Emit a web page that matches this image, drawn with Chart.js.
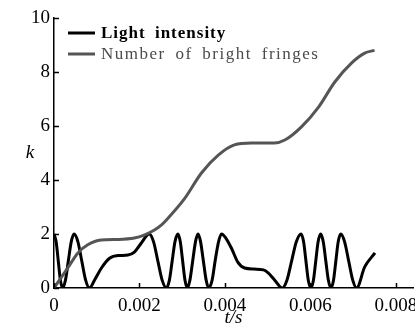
<!DOCTYPE html>
<html>
<head>
<meta charset="utf-8">
<script src="https://cdn.jsdelivr.net/npm/chart.js@4.4.1/dist/chart.umd.min.js"></script>
<style>
  html, body { margin: 0; padding: 0; background: #fff; }
  #wrap { width: 415px; height: 329px; }
</style>
</head>
<body>
<div id="wrap"><canvas id="c" width="415" height="329"></canvas></div>
<script>
// ---- data ----
const seriesNames = ["Light intensity", "Number of bright fringes"];

const lightT = [
  0, 0.00005, 0.0001, 0.00015, 0.0002,
  0.000268, 0.000335, 0.000403, 0.00047,
  0.00056, 0.00065, 0.00074, 0.00083,
  0.00095, 0.00111, 0.0013, 0.0015, 0.00173, 0.00188, 0.00204, 0.00223,
  0.00233, 0.00243, 0.00253, 0.00263,
  0.0027, 0.002765, 0.00283, 0.0029,
  0.002955, 0.00301, 0.003065, 0.00312,
  0.00318, 0.003245, 0.00331, 0.00337,
  0.00343, 0.003495, 0.00356, 0.00362,
  0.0037, 0.00377, 0.00385, 0.00392,
  0.00402, 0.00415, 0.0043, 0.00446, 0.00468, 0.0049, 0.00501, 0.00516, 0.00534,
  0.00545, 0.00556, 0.00567, 0.00578,
  0.00584, 0.005895, 0.00595, 0.00601,
  0.00607, 0.006125, 0.00618, 0.00624,
  0.0063, 0.00636, 0.00642, 0.00648,
  0.00654, 0.006595, 0.00665, 0.00671,
  0.0068, 0.006895, 0.00699, 0.00708,
  0.00727, 0.00751];
const lightK = [
  2.0, 1.71, 1.0, 0.29, 0,
  0.29, 1.0, 1.71, 2.0,
  1.71, 1.0, 0.29, 0,
  0.3, 0.74, 1.1, 1.2, 1.22, 1.33, 1.66, 2.0,
  1.71, 1.0, 0.29, 0,
  0.29, 1.0, 1.71, 2.0,
  1.71, 1.0, 0.29, 0,
  0.29, 1.0, 1.71, 2.0,
  1.71, 1.0, 0.29, 0,
  0.29, 1.0, 1.71, 2.0,
  1.85, 1.48, 0.96, 0.74, 0.7, 0.67, 0.56, 0.3, 0,
  0.29, 1.0, 1.71, 2.0,
  1.71, 1.0, 0.29, 0,
  0.29, 1.0, 1.71, 2.0,
  1.71, 1.0, 0.29, 0,
  0.29, 1.0, 1.71, 2.0,
  1.71, 1.0, 0.29, 0,
  0.78, 1.3];

const fringeT = [0, 0.00032, 0.00056, 0.00079, 0.0011, 0.0015, 0.00188, 0.00211, 0.00235, 0.00251,
  0.00263, 0.00305, 0.00345, 0.00385, 0.00422, 0.00462, 0.00516, 0.0054, 0.00579, 0.00619,
  0.00657, 0.00696, 0.00727, 0.0075];
const fringeK = [0, 0.74, 1.3, 1.6, 1.78, 1.8, 1.85, 1.96, 2.15, 2.33,
  2.52, 3.3, 4.26, 4.93, 5.3, 5.37, 5.37, 5.48, 5.97, 6.7,
  7.63, 8.33, 8.7, 8.8];

const xTickValues = [0, 0.002, 0.004, 0.006, 0.008];
const xTickLabels = ["0", "0.002", "0.004", "0.006", "0.008"];
const yTickValues = [0, 2, 4, 6, 8, 10];
const yTickLabels = ["0", "2", "4", "6", "8", "10"];
const xTitle = "t/s";
const yTitle = "k";

// ---- chart ----
const SERIF = "'Liberation Serif', 'Times New Roman', serif";
const toPts = (xs, ys) => xs.map((x, i) => ({ x: x, y: ys[i] }));

const inwardTicks = {
  id: 'inwardTicks',
  afterDraw(chart) {
    const ctx = chart.ctx;
    const xs = chart.scales.x, ys = chart.scales.y;
    const a = chart.chartArea;
    ctx.save();
    ctx.strokeStyle = '#000';
    ctx.lineWidth = 1.5;
    ctx.beginPath();
    xTickValues.forEach(v => {
      const px = Math.round(xs.getPixelForValue(v)) + 0.5;
      ctx.moveTo(px, a.bottom); ctx.lineTo(px, a.bottom - 5);
    });
    yTickValues.forEach(v => {
      const py = Math.round(ys.getPixelForValue(v)) + 0.5;
      ctx.moveTo(a.left, py); ctx.lineTo(a.left + 5, py);
    });
    ctx.stroke();

    // y title (upright italic k)
    ctx.fillStyle = '#000';
    ctx.font = "italic 19px " + SERIF;
    ctx.textAlign = 'center';
    ctx.textBaseline = 'middle';
    ctx.fillText(yTitle, 30, (a.top + a.bottom) / 2);

    // legend
    const items = [
      { text: seriesNames[0], color: '#000', font: "bold 17px " + SERIF, y: 33, ls: '1px' },
      { text: seriesNames[1], color: '#4a4a4a', font: "17px " + SERIF, y: 54, ls: '1.5px' }
    ];
    items.forEach(it => {
      ctx.strokeStyle = it.color === '#000' ? '#000' : '#555';
      ctx.lineWidth = 3;
      ctx.beginPath();
      ctx.moveTo(68, it.y); ctx.lineTo(95, it.y);
      ctx.stroke();
      ctx.font = it.font;
      ctx.fillStyle = it.color;
      ctx.textAlign = 'left';
      ctx.textBaseline = 'middle';
      try { ctx.letterSpacing = it.ls; ctx.wordSpacing = '4px'; } catch (e) {}
      ctx.fillText(it.text, 101, it.y + 1);
      try { ctx.letterSpacing = '0px'; ctx.wordSpacing = '0px'; } catch (e) {}
    });
    ctx.restore();
  }
};

new Chart(document.getElementById('c'), {
  type: 'line',
  data: {
    datasets: [
      {
        label: seriesNames[0],
        data: toPts(lightT, lightK),
        borderColor: '#000',
        borderWidth: 3,
        pointRadius: 0,
        fill: false,
        cubicInterpolationMode: 'monotone',
        order: 1
      },
      {
        label: seriesNames[1],
        data: toPts(fringeT, fringeK),
        borderColor: '#555',
        borderWidth: 3,
        pointRadius: 0,
        fill: false,
        cubicInterpolationMode: 'monotone',
        order: 0
      }
    ]
  },
  options: {
    responsive: false,
    animation: false,
    devicePixelRatio: 1,
    layout: { padding: { left: 0, top: 18, right: 2, bottom: 0 } },
    plugins: { legend: { display: false }, tooltip: { enabled: false } },
    scales: {
      x: {
        type: 'linear',
        min: 0,
        max: 0.0084,
        afterBuildTicks: s => { s.ticks = xTickValues.map(v => ({ value: v })); },
        afterFit: s => { s.height = 41; s.paddingLeft = 0; s.paddingRight = 0; },
        grid: { display: false, drawTicks: false },
        border: { display: true, color: '#000', width: 1.5 },
        ticks: {
          padding: 7,
          color: '#000',
          maxRotation: 0,
          autoSkip: false,
          font: { family: SERIF, size: 19 },
          callback: (v) => { const i = xTickValues.indexOf(v); return i >= 0 ? xTickLabels[i] : ''; }
        },
        title: {
          display: true,
          text: xTitle,
          color: '#000',
          padding: { top: 0, bottom: 0 },
          font: { family: SERIF, size: 19, style: 'italic' }
        }
      },
      y: {
        type: 'linear',
        min: 0,
        max: 10,
        afterBuildTicks: s => { s.ticks = yTickValues.map(v => ({ value: v })); },
        afterFit: s => { s.width = 54; s.paddingTop = 0; s.paddingBottom = 0; },
        grid: { display: false, drawTicks: false },
        border: { display: true, color: '#000', width: 1.5 },
        ticks: {
          padding: 4,
          color: '#000',
          autoSkip: false,
          font: { family: SERIF, size: 19 },
          callback: (v) => { const i = yTickValues.indexOf(v); return i >= 0 ? yTickLabels[i] : ''; }
        }
      }
    }
  },
  plugins: [inwardTicks]
});
</script>
</body>
</html>
